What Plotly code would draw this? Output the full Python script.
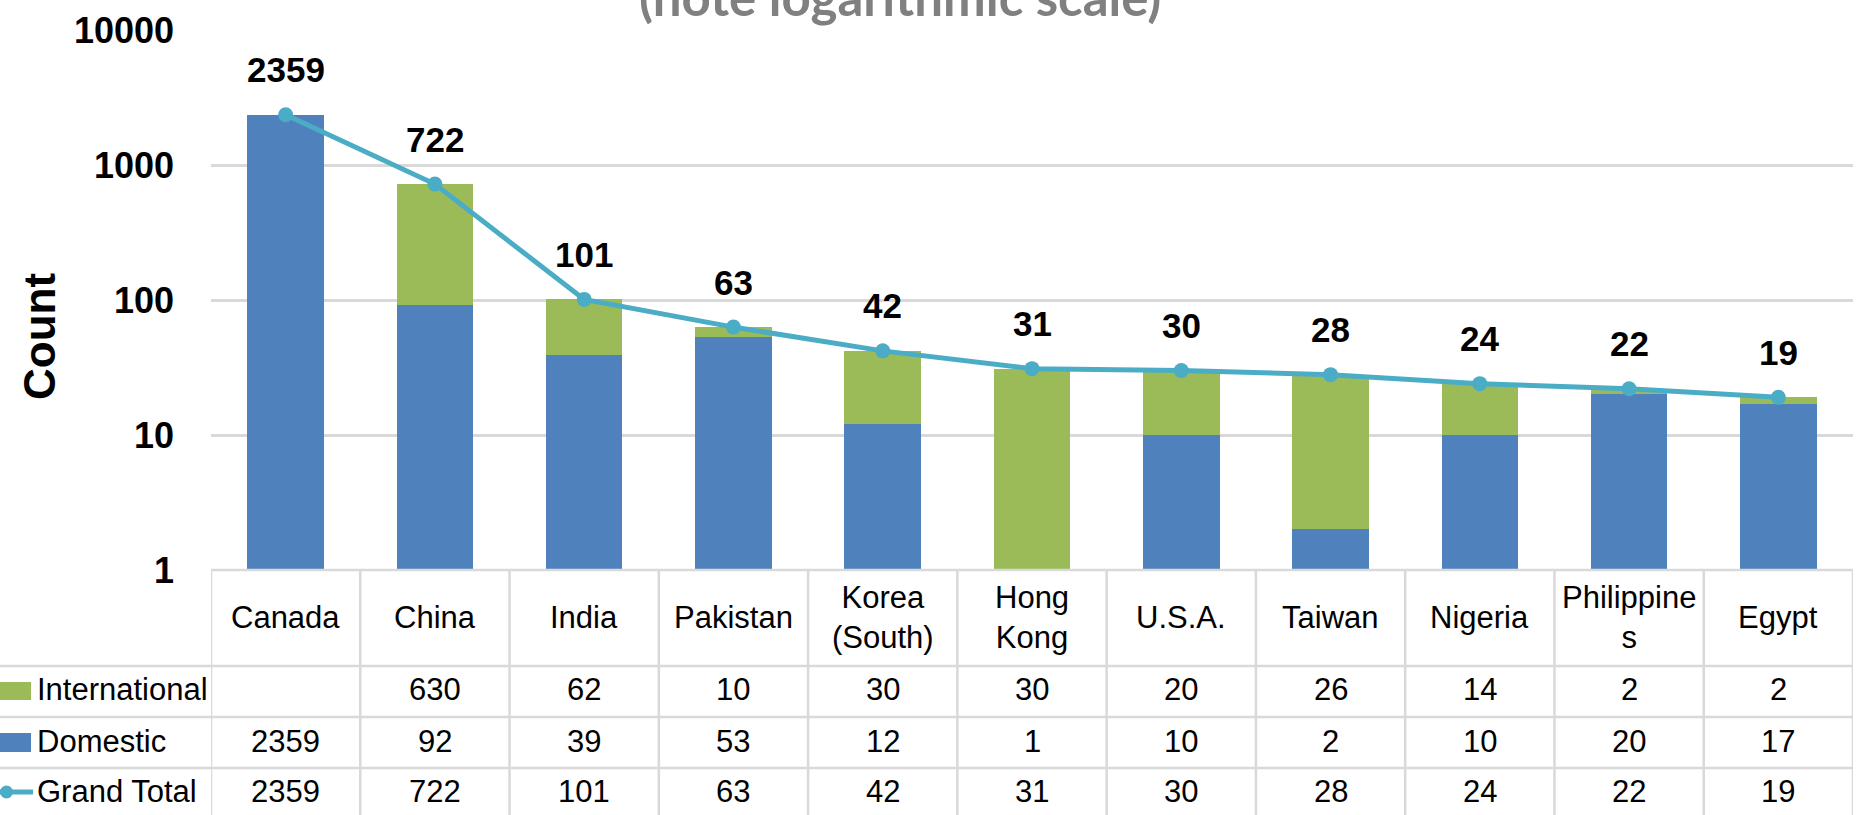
import numpy as np
import plotly.graph_objects as go

# ---------------- data ----------------
countries = ["Canada", "China", "India", "Pakistan", "Korea (South)", "Hong Kong",
             "U.S.A.", "Taiwan", "Nigeria", "Philippines", "Egypt"]
header_labels = ["Canada", "China", "India", "Pakistan", "Korea<br>(South)", "Hong<br>Kong",
                 "U.S.A.", "Taiwan", "Nigeria", "Philippine<br>s", "Egypt"]
international = [None, 630, 62, 10, 30, 30, 20, 26, 14, 2, 2]
domestic = [2359, 92, 39, 53, 12, 1, 10, 2, 10, 20, 17]
grand_total = [2359, 722, 101, 63, 42, 31, 30, 28, 24, 22, 19]
tick_values = [1, 10, 100, 1000, 10000]
tick_labels = ["1", "10", "100", "1000", "10000"]
series_names = ["International", "Domestic", "Grand Total"]
title_text = "(note logarithmic scale)"
y_title = "Count"

# ---------------- style ----------------
C_INT = "#9BBB59"
C_DOM = "#4F81BD"
C_TOT = "#4BACC6"
GRID = "#D9D9D9"
ARIAL = "Liberation Sans, Arial, sans-serif"

W, H = 1860, 815
L, R, T, B = 211, 7, 30, 245
PW, PH = W - L - R, H - T - B


def px(X):
    return (X - L) / PW


def py(Y):
    return (H - B - Y) / PH


fig = go.Figure()
fig.add_trace(go.Bar(x=countries, y=domestic, name=series_names[1],
                     marker=dict(color=C_DOM, line=dict(width=0))))
fig.add_trace(go.Bar(x=countries, y=international, name=series_names[0],
                     marker=dict(color=C_INT, line=dict(width=0))))
fig.add_trace(go.Scatter(x=countries, y=grand_total, name=series_names[2],
                         mode="lines+markers",
                         line=dict(color=C_TOT, width=5),
                         marker=dict(color=C_TOT, size=15, symbol="circle")))

annotations = []
shapes = []

# data labels above the grand total markers
for c, v in zip(countries, grand_total):
    annotations.append(dict(x=c, y=np.log10(v), xref="x", yref="y", text=str(v),
                            showarrow=False, yshift=45, yanchor="middle",
                            font=dict(family=ARIAL, size=35, color="black", weight="bold")))

# title (partly cut off at top)
annotations.append(dict(x=px(900), y=py(-4), xref="paper", yref="paper", text=title_text,
                        showarrow=False, xanchor="center", yanchor="middle",
                        font=dict(family="Lato, Open Sans, sans-serif", size=51,
                                  color="#808080", weight="bold")))

# y axis title
annotations.append(dict(x=px(39), y=py(337), xref="paper", yref="paper", text=y_title,
                        showarrow=False, textangle=-90, xanchor="center", yanchor="middle",
                        font=dict(family=ARIAL, size=44, color="black", weight="bold")))

# ---------------- data table ----------------
row_header_y = 617
row_y = [689, 741, 791]
row_lines = [666, 717, 768]
row_values = [international, domestic, grand_total]
tfont = dict(family=ARIAL, size=31, color="black")

for i, lab in enumerate(header_labels):
    annotations.append(dict(x=i, y=py(row_header_y), xref="x", yref="paper", text=lab,
                            showarrow=False, xanchor="center", yanchor="middle", font=tfont))
    for r, vals in enumerate(row_values):
        v = vals[i]
        annotations.append(dict(x=i, y=py(row_y[r]), xref="x", yref="paper",
                                text="" if v is None else str(v),
                                showarrow=False, xanchor="center", yanchor="middle", font=tfont))

for r, name in enumerate(series_names):
    annotations.append(dict(x=px(35), y=py(row_y[r]), xref="paper", yref="paper", text=name,
                            showarrow=False, xanchor="left", yanchor="middle", font=tfont))

# table grid lines
n = len(countries)
for i in range(n + 1):
    shapes.append(dict(type="line", xref="x", yref="paper", x0=i - 0.5, x1=i - 0.5,
                       y0=py(570), y1=py(H + 5), line=dict(color=GRID, width=2.5)))
shapes.append(dict(type="line", xref="x", yref="paper", x0=-0.5, x1=n - 0.5,
                   y0=py(570), y1=py(570), line=dict(color=GRID, width=2.5)))
for Y in row_lines:
    shapes.append(dict(type="line", xref="paper", yref="paper", x0=px(0), x1=1,
                       y0=py(Y), y1=py(Y), line=dict(color=GRID, width=2.5)))

# legend keys inside the table
shapes.append(dict(type="rect", xref="paper", yref="paper", x0=px(0), x1=px(31),
                   y0=py(700), y1=py(682), fillcolor=C_INT, line=dict(width=0)))
shapes.append(dict(type="rect", xref="paper", yref="paper", x0=px(0), x1=px(31),
                   y0=py(752), y1=py(733), fillcolor=C_DOM, line=dict(width=0)))
shapes.append(dict(type="line", xref="paper", yref="paper", x0=px(0), x1=px(33),
                   y0=py(792), y1=py(792), line=dict(color=C_TOT, width=5)))
shapes.append(dict(type="circle", xref="paper", yref="paper", x0=px(0), x1=px(13),
                   y0=py(798.5), y1=py(785.5), fillcolor=C_TOT, line=dict(width=0)))

fig.update_layout(
    width=W, height=H,
    margin=dict(l=L, r=R, t=T, b=B, pad=0),
    paper_bgcolor="white", plot_bgcolor="white",
    barmode="stack", bargap=0.487,
    showlegend=False,
    annotations=annotations, shapes=shapes,
    xaxis=dict(type="category", range=[-0.5, n - 0.5], showticklabels=False,
               showgrid=False, zeroline=False, showline=False, ticks=""),
    yaxis=dict(type="log", range=[0, 4], tickvals=tick_values, ticktext=tick_labels,
               showgrid=True, gridcolor=GRID, gridwidth=2.5, zeroline=False,
               showline=False, ticks="", ticklabelstandoff=36,
               tickfont=dict(family=ARIAL, size=36, color="black", weight="bold")),
)

fig.write_html("out.html", config={"displayModeBar": False},
               post_script="document.body.style.margin='0';document.body.style.overflow='hidden';")
